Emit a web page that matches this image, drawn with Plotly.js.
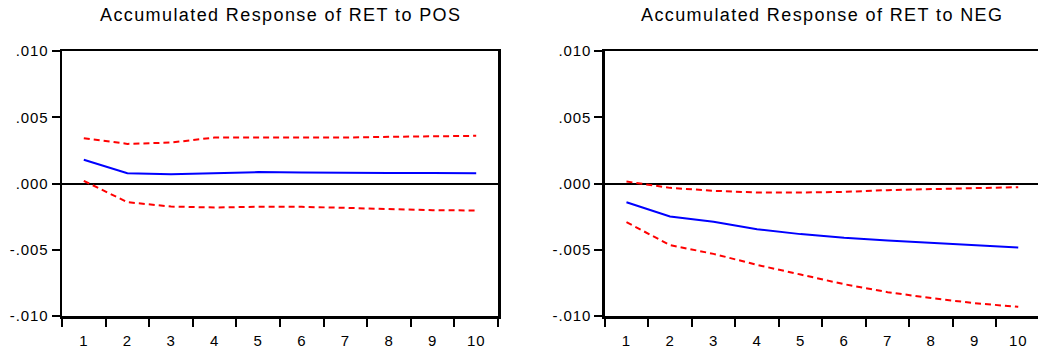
<!DOCTYPE html>
<html>
<head>
<meta charset="utf-8">
<script src="https://cdn.plot.ly/plotly-3.0.1.min.js"></script>
<style>
  html, body { margin: 0; padding: 0; overflow: hidden; background: #fff; }
  #chart { width: 1050px; height: 349px; }
  .annotation-text { letter-spacing: 1.4px; }
  .xtick text, .ytick text, .x2tick text, .y2tick text { letter-spacing: 0.9px; }
</style>
</head>
<body>
<div id="chart"></div>
<script>
// Periods
const periods = ['1','2','3','4','5','6','7','8','9','10'];
// Tick labels
const yTickVals = [-0.01, -0.005, 0, 0.005, 0.01];
const yTickText = ['-.010', '-.005', '.000', '.005', '.010'];
// Titles
const titlePos = 'Accumulated Response of RET to POS';
const titleNeg = 'Accumulated Response of RET to NEG';

// Accumulated response of RET to POS
const posResp  = [0.00179, 0.00078, 0.00070, 0.00078, 0.00086, 0.00083, 0.00080, 0.00080, 0.00080, 0.00078];
const posUpper = [0.00342, 0.00299, 0.00309, 0.00347, 0.00347, 0.00345, 0.00347, 0.00352, 0.00357, 0.00360];
const posLower = [0.00020, -0.00141, -0.00174, -0.00181, -0.00176, -0.00176, -0.00184, -0.00194, -0.00201, -0.00204];

// Accumulated response of RET to NEG
const negResp  = [-0.00141, -0.00249, -0.00289, -0.00345, -0.00382, -0.00410, -0.00430, -0.00448, -0.00465, -0.00483];
const negUpper = [0.00015, -0.00033, -0.00055, -0.00068, -0.00068, -0.00063, -0.00050, -0.00045, -0.00035, -0.00028];
const negLower = [-0.00292, -0.00465, -0.00531, -0.00614, -0.00687, -0.00760, -0.00820, -0.00865, -0.00903, -0.00931];

const blue = {color: '#0000ff', width: 2};
const red = {color: '#ff0000', width: 2, dash: '6px,4px'};

function tr(y, line, xa, ya) {
  return {x: periods, y: y, type: 'scatter', mode: 'lines', line: line,
          xaxis: xa, yaxis: ya, hoverinfo: 'skip', showlegend: false};
}

const data = [
  tr(posUpper, red, 'x', 'y'),
  tr(posLower, red, 'x', 'y'),
  tr(posResp, blue, 'x', 'y'),
  tr(negUpper, red, 'x2', 'y2'),
  tr(negLower, red, 'x2', 'y2'),
  tr(negResp, blue, 'x2', 'y2')
];

const font = {family: 'Liberation Sans, Arial, sans-serif', size: 15, color: '#000'};

// plot area geometry (pixels)
const W = 1050, L = 62, R = 1040;
const span = R - L;
const d1 = [0, (498 - L) / span];
const d2 = [(604.7 - L) / span, 1];

function xax(domain, anchor) {
  return {
    type: 'category', domain: domain, anchor: anchor, range: [-0.5, 9.5],
    tickson: 'boundaries', ticks: 'outside', ticklen: 8, tickwidth: 2, tickcolor: '#000',
    ticklabelstandoff: 9,
    showline: true, linewidth: 2.5, linecolor: '#000', mirror: true,
    showgrid: false, zeroline: false, tickfont: font, fixedrange: true
  };
}
function yax(anchor) {
  return {
    domain: [0, 1], anchor: anchor, range: [-0.01, 0.01],
    tickmode: 'array', tickvals: yTickVals, ticktext: yTickText,
    ticks: 'outside', ticklen: 8, tickwidth: 2, tickcolor: '#000',
    showline: true, linewidth: 2.5, linecolor: '#000', mirror: true,
    showgrid: false, zeroline: true, zerolinecolor: '#000', zerolinewidth: 2,
    tickfont: font, fixedrange: true
  };
}

const titleFont = {family: 'Liberation Sans, Arial, sans-serif', size: 18, color: '#000'};

const layout = {
  width: W, height: 349,
  margin: {l: L, r: W - R, t: 51, b: 33},
  paper_bgcolor: '#fff', plot_bgcolor: '#fff',
  showlegend: false,
  xaxis: xax(d1, 'y'),
  yaxis: yax('x'),
  xaxis2: xax(d2, 'y2'),
  yaxis2: yax('x2'),
  annotations: [
    {text: titlePos, xref: 'x domain', yref: 'paper', x: 0.5, y: 1.135,
     xanchor: 'center', yanchor: 'middle', showarrow: false, font: titleFont},
    {text: titleNeg, xref: 'x2 domain', yref: 'paper', x: 0.5, y: 1.135,
     xanchor: 'center', yanchor: 'middle', showarrow: false, font: titleFont}
  ]
};

Plotly.newPlot('chart', data, layout, {staticPlot: true, displayModeBar: false});
</script>
</body>
</html>
